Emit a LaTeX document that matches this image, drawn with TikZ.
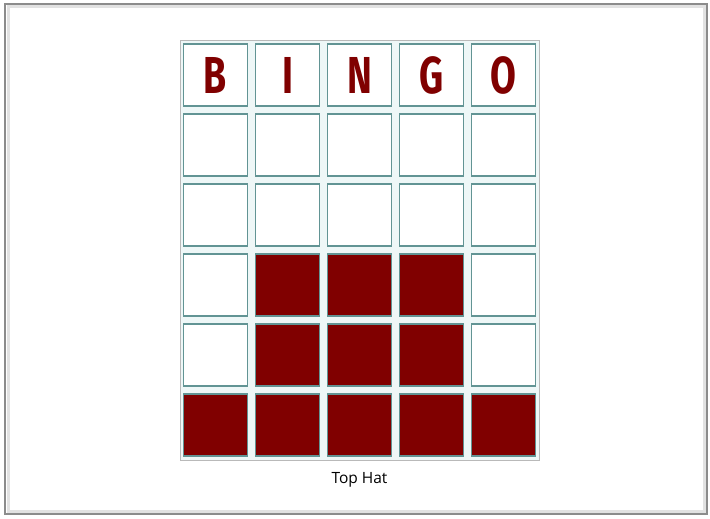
\documentclass[tikz,border=0pt]{standalone}
\usepackage{fontspec}
\setmainfont{Open Sans}
\newfontfamily\bingofont{Fira Sans}
\usetikzlibrary{positioning}
\definecolor{bingoRed}{RGB}{128,0,0}
\definecolor{gridTeal}{RGB}{98,148,148}
\definecolor{gapTint}{RGB}{238,247,247}
\definecolor{frameGray}{RGB}{140,140,140}

\begin{document}
\begin{tikzpicture}[x=1pt, y=-1pt,
  cell/.style={draw=gridTeal, line width=1.6pt, fill=#1, inner sep=0pt,
               minimum width=64pt, minimum height=62pt},
  cell/.default=white,
  letter/.style={cell, text=bingoRed,
                 font=\bingofont\bfseries\fontsize{52}{52}\selectfont},
]
\useasboundingbox (0,0) rectangle (710,519);

% page frame with a soft shadow
\draw[frameGray!25, line width=3pt] (8,7) rectangle (704,511);
\draw[frameGray, line width=1.5pt] (5,4) rectangle (707,514);

% board behind the cells
\node[draw=gray!55, line width=0.8pt, fill=gapTint, inner sep=0pt,
      minimum width=359pt, minimum height=420pt] (board) at (359.5,250) {};

% header row
\foreach \l [count=\c] in {B,I,N,G,O}{
  \node[letter] (h\c) at ({143.5+72*\c},75) {\scalebox{0.72}[1]{\l}};
}

% rows 2..6, the top hat shape filled in
\foreach \r in {2,...,6}{
  \foreach \c in {1,...,5}{
    \pgfmathtruncatemacro\ishit{(\r==6)||((\r>=4)&&(\c>=2)&&(\c<=4))}
    \ifnum\ishit=1 \def\fillc{bingoRed}\else\def\fillc{white}\fi
    \node[cell=\fillc] (c\r\c) at ({143.5+72*\c},{75+70*(\r-1)}) {};
  }
}

\node[font=\fontsize{15.5}{18}\selectfont] (caption) at (359.5,480) {Top Hat};

\end{tikzpicture}
\end{document}
